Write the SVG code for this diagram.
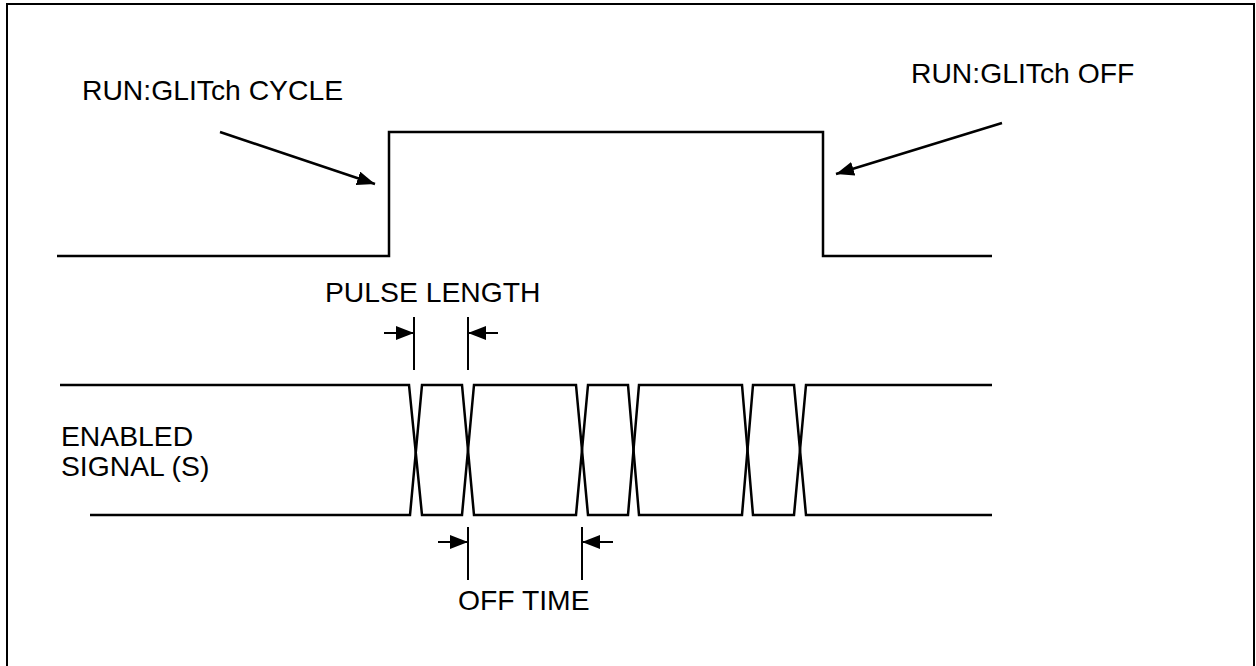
<svg xmlns="http://www.w3.org/2000/svg" width="1256" height="666" viewBox="0 0 1256 666">
<defs>
<style>
.ln{fill:none;stroke:#000;stroke-width:2.5}
.thin{fill:none;stroke:#000;stroke-width:2}
.tx{font-family:"Liberation Sans",Arial,sans-serif;font-size:28.3px;fill:#000}
</style>
<marker id="ah" viewBox="0 0 18 14" refX="18" refY="7" markerWidth="18" markerHeight="14" markerUnits="userSpaceOnUse" orient="auto">
<path d="M0,0 L18,7 L0,14 Z" fill="#000"/>
</marker>
</defs>
<rect x="0" y="0" width="1256" height="666" fill="#fff"/>
<rect x="7" y="4" width="1247" height="690" fill="none" stroke="#000" stroke-width="2"/>
<g id="glitch-signal">
<path class="ln" d="M57,256 H389 V132 H823 V256 H992"/>
</g>
<g id="enabled-signal">
<path class="ln" d="M60,385 H409 L422,515 H462 L474,385 H576 L588,515 H628 L639,385 H742 L753,515 H794 L806,385 H992"/>
<path class="ln" d="M90,515 H410 L422,385 H462 L474,515 H576 L588,385 H628 L639,515 H742 L753,385 H794 L806,515 H992"/>
</g>
<g id="labels">
<text class="tx" x="82" y="100">RUN:GLITch CYCLE</text>
<text class="tx" x="911" y="83">RUN:GLITch OFF</text>
<text class="tx" x="325" y="302">PULSE LENGTH</text>
<text class="tx" x="61" y="446">ENABLED</text>
<text class="tx" x="61" y="476">SIGNAL (S)</text>
<text class="tx" x="458" y="610">OFF TIME</text>
</g>
<g id="connectors">
<path class="ln" d="M220,132 L375,184" marker-end="url(#ah)"/>
<path class="ln" d="M1002,123 L836,174" marker-end="url(#ah)"/>
<path class="thin" d="M414,317 V370 M468,317 V370"/>
<path class="thin" d="M384,333 H414" marker-end="url(#ah)"/>
<path class="thin" d="M498,333 H468" marker-end="url(#ah)"/>
<path class="thin" d="M468,527 V580 M582,527 V580"/>
<path class="thin" d="M438,542 H468" marker-end="url(#ah)"/>
<path class="thin" d="M613,542 H582" marker-end="url(#ah)"/>
</g>
</svg>
